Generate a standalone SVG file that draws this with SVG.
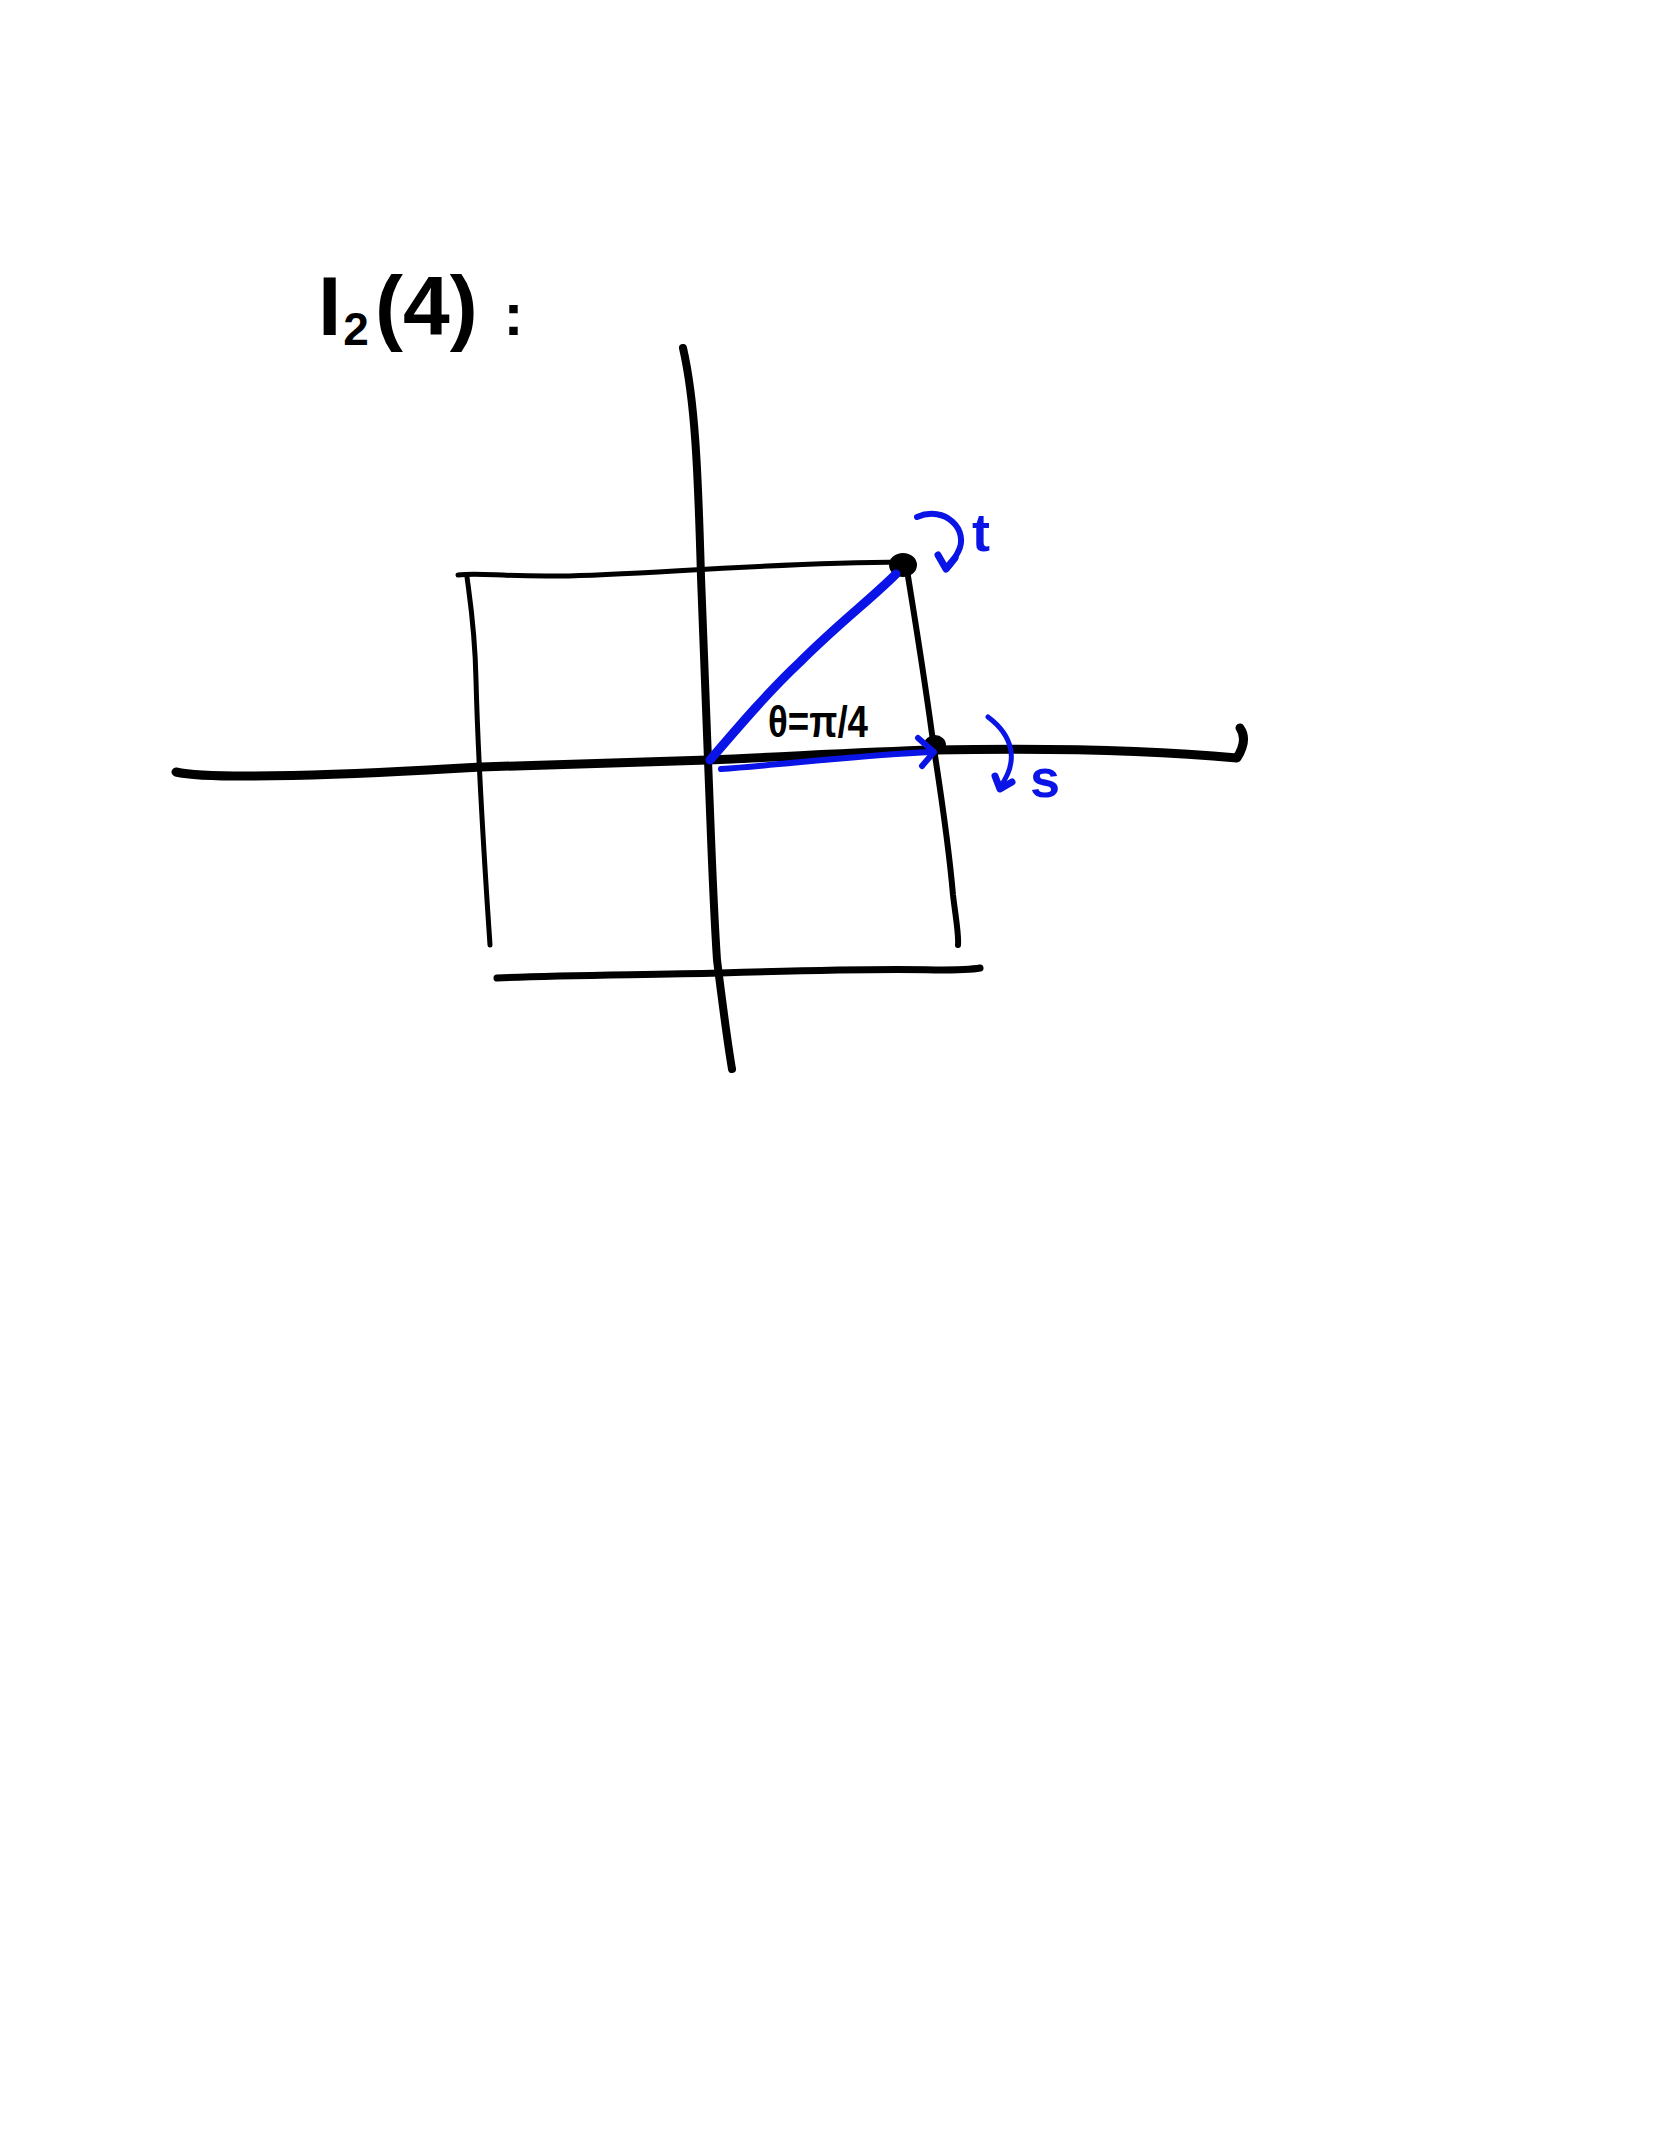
<svg xmlns="http://www.w3.org/2000/svg" width="1668" height="2154" viewBox="0 0 1668 2154">
<style>
.ink{fill:none;stroke:#000;stroke-linecap:round;stroke-linejoin:round}
.blue{fill:none;stroke:#0a14e6;stroke-linecap:round;stroke-linejoin:round}
.lbl{font-family:"Liberation Sans","DejaVu Sans",sans-serif;font-weight:bold}
</style>
<rect width="1668" height="2154" fill="#fff"/>
<g id="title">
<text class="lbl" x="318" y="335" font-size="84" fill="#000">I<tspan font-size="46" dy="10" dx="2">2</tspan><tspan dy="-10" dx="6">(4)</tspan><tspan dx="26" font-size="60">:</tspan></text>
</g>
<g id="grid">
<path class="ink" stroke-width="8" d="M683,348 C695,400 698,470 701,577 L708,760 C712,860 713,900 717,960 C722,1000 727,1040 732,1069"/>
<path class="ink" stroke-width="9" d="M176,772 C210,780 350,775 481,767 L708,760 C800,756 860,752 934,750 C1040,748 1140,749 1237,758 C1245,745 1245,735 1240,728"/>
<path class="ink" stroke-width="5" d="M458,575 C480,572 500,577 560,576 C640,575 760,563 903,562"/>
<path class="ink" stroke-width="5" d="M467,577 C470,600 475,630 476,680 C478,760 482,820 487,900 L490,945"/>
<path class="ink" stroke-width="6" d="M907,570 C915,620 925,680 934,749 C945,820 950,860 953,895 C956,920 959,935 958,945"/>
<path class="ink" stroke-width="7" d="M497,978 C560,975 640,975 720,973 C820,970 900,969 935,970 C960,970 975,969 980,968"/>
<ellipse cx="903" cy="565" rx="14" ry="12" fill="#000"/>
<ellipse cx="935" cy="745" rx="11" ry="10" fill="#000"/>
</g>
<g id="connectors">
<path class="blue" stroke-width="9" d="M710,760 C740,725 770,690 800,662 C840,622 870,600 896,574"/>
<path class="blue" stroke-width="6" d="M721,769 C780,765 860,755 932,752"/>
<path class="blue" stroke-width="6" d="M918,738 L934,752 L922,766"/>
<path class="blue" stroke-width="6" d="M917,517 C945,505 970,530 958,552 C954,560 950,566 946,569"/>
<path class="blue" stroke-width="7" d="M938,555 L946,569 L955,558"/>
<path class="blue" stroke-width="5" d="M988,717 C1012,735 1020,760 1000,787"/>
<path class="blue" stroke-width="7" d="M995,776 L1000,789 L1012,782"/>
</g>
<g id="labels">
<text class="lbl" x="972" y="551" font-size="54" fill="#0a14e6">t</text>
<text class="lbl" x="1030" y="797" font-size="54" fill="#0a14e6">s</text>
<text class="lbl" x="768" y="737" font-size="44" fill="#000" textLength="100" lengthAdjust="spacingAndGlyphs">θ=π/4</text>
</g>
</svg>
